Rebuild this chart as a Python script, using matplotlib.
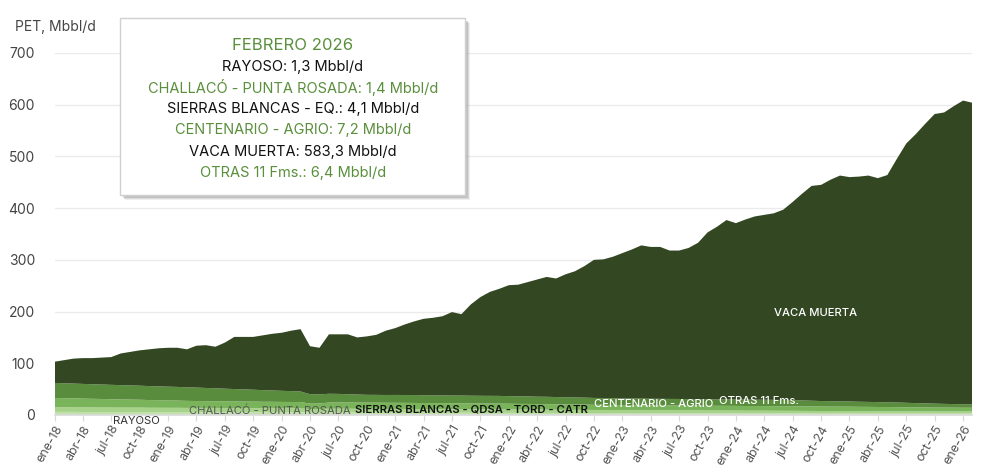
import matplotlib
matplotlib.use("Agg")
import matplotlib.pyplot as plt
from matplotlib.patches import Rectangle
import numpy as np

plt.rcParams['font.family'] = ['Inter', 'DejaVu Sans']

# ---------------- data (Mbbl/d, monthly ene-18 .. feb-26) ----------------
rayoso = [2.0,2.0,2.0,1.9,1.9,1.9,1.9,1.9,1.9,1.9,1.8,1.8,
          1.8,1.8,1.8,1.8,1.8,1.8,1.8,1.7,1.7,1.7,1.7,1.7,
          1.7,1.7,1.7,1.5,1.5,1.6,1.6,1.6,1.6,1.6,1.6,1.6,
          1.6,1.6,1.5,1.5,1.5,1.5,1.5,1.5,1.5,1.5,1.5,1.5,
          1.5,1.5,1.5,1.5,1.5,1.4,1.4,1.4,1.4,1.4,1.4,1.4,
          1.4,1.4,1.4,1.4,1.4,1.4,1.4,1.4,1.4,1.4,1.4,1.4,
          1.4,1.4,1.4,1.4,1.4,1.4,1.4,1.3,1.3,1.3,1.3,1.3,
          1.3,1.3,1.3,1.3,1.3,1.3,1.3,1.3,1.3,1.3,1.3,1.3,1.3,1.3]
challaco = [4.0,4.0,4.0,3.9,3.9,3.9,3.8,3.8,3.8,3.8,3.7,3.7,
            3.7,3.7,3.6,3.6,3.6,3.6,3.5,3.5,3.5,3.5,3.4,3.4,
            3.4,3.4,3.4,3.0,3.0,3.2,3.2,3.2,3.1,3.1,3.1,3.0,
            3.0,3.0,3.0,2.9,2.9,2.9,2.8,2.8,2.8,2.7,2.7,2.7,
            2.6,2.6,2.6,2.5,2.5,2.5,2.4,2.4,2.4,2.3,2.3,2.3,
            2.2,2.2,2.2,2.1,2.1,2.1,2.0,2.0,2.0,1.9,1.9,1.9,
            1.8,1.8,1.8,1.8,1.7,1.7,1.7,1.7,1.6,1.6,1.6,1.6,
            1.6,1.5,1.5,1.5,1.5,1.5,1.5,1.5,1.4,1.4,1.4,1.4,1.4,1.4]
sierras_blancas = [9.0,9.0,8.9,8.9,8.8,8.8,8.7,8.7,8.6,8.6,8.5,8.5,
                   8.4,8.4,8.3,8.3,8.2,8.2,8.1,8.1,8.0,8.0,7.9,7.9,
                   7.8,7.8,7.7,6.8,6.9,7.4,7.4,7.3,7.3,7.2,7.2,7.1,
                   7.1,7.0,7.0,6.9,6.9,6.8,6.8,6.7,6.7,6.6,6.6,6.5,
                   6.5,6.4,6.4,6.3,6.3,6.2,6.2,6.1,6.1,6.0,6.0,5.9,
                   5.9,5.8,5.8,5.7,5.7,5.6,5.6,5.5,5.5,5.4,5.4,5.3,
                   5.3,5.2,5.2,5.1,5.1,5.0,5.0,4.9,4.9,4.8,4.8,4.7,
                   4.7,4.6,4.6,4.5,4.5,4.4,4.4,4.3,4.3,4.2,4.2,4.2,4.1,4.1]
centenario = [18.0,17.6,17.3,17.0,16.7,16.4,16.1,15.8,15.5,15.2,14.9,14.6,
              14.3,14.0,13.6,13.3,13.2,13.1,13.0,12.9,12.8,12.7,12.6,12.5,
              12.4,12.3,12.2,10.8,10.9,11.9,12.1,12.1,12.1,12.1,12.0,12.0,
              11.9,11.9,11.8,11.8,11.7,11.7,11.6,11.6,11.5,11.4,11.4,11.3,
              11.2,11.0,10.9,10.8,10.7,10.6,10.4,10.3,10.2,10.0,9.9,9.7,
              9.5,9.5,9.4,9.4,9.3,9.3,9.3,9.2,9.2,9.2,9.1,9.1,
              9.1,9.0,9.0,9.0,8.9,8.9,8.9,8.8,8.8,8.7,8.6,8.6,
              8.5,8.4,8.3,8.2,8.1,8.0,7.8,7.7,7.6,7.5,7.4,7.3,7.3,7.2]
otras = [29.0,28.8,28.6,28.4,28.2,28.0,27.8,27.6,27.4,27.2,27.0,26.8,
         26.6,26.4,26.2,26.0,25.5,25.0,24.5,24.0,23.5,23.0,22.5,22.0,
         21.5,21.0,20.5,18.0,17.5,17.0,16.5,16.0,15.5,15.0,15.0,15.0,
         15.2,15.1,15.3,15.2,15.0,15.1,14.9,15.0,14.8,14.9,14.8,14.9,
         14.7,14.6,14.5,14.3,14.2,14.0,13.9,13.7,13.5,13.3,13.2,13.1,
         13.0,12.9,12.9,12.8,12.8,12.7,12.7,12.6,12.6,12.5,12.4,12.4,
         12.3,12.3,12.2,12.2,12.1,12.1,12.0,11.5,11.0,10.6,10.4,10.2,
         10.0,9.8,9.6,9.4,9.2,9.0,8.6,8.2,7.9,7.6,7.2,6.9,6.6,6.4]
vaca_muerta = [41.0,44.6,48.2,49.9,50.5,52.0,53.7,61.2,64.8,68.3,71.1,73.6,
               75.2,75.7,73.5,81.0,82.7,80.3,89.1,100.8,101.5,102.1,105.9,109.5,
               112.2,116.8,120.5,92.9,90.2,114.9,115.2,115.8,110.4,113.0,116.1,124.3,
               129.2,136.4,142.4,147.7,150.0,153.0,161.4,157.4,176.7,190.9,201.0,207.1,
               214.5,215.9,221.1,226.6,231.8,229.3,237.7,244.1,254.4,267.0,268.2,273.6,
               281.0,288.2,296.3,293.6,293.7,286.9,287.0,292.3,302.3,322.6,333.8,346.9,
               341.1,348.3,354.4,357.5,360.8,367.9,383.0,399.8,415.4,418.0,428.3,436.6,
               433.9,435.4,437.7,433.1,439.4,470.8,501.4,520.0,540.5,560.0,563.5,575.9,587.3,583.3]

month_abbr = ['ene', 'abr', 'jul', 'oct']
years = list(range(18, 27))
tick_labels = [f"{m}-{y}" for y in years for m in month_abbr][:33]

box_title = "FEBRERO 2026"
box_lines = ["RAYOSO: 1,3 Mbbl/d",
             "CHALLACÓ - PUNTA ROSADA: 1,4 Mbbl/d",
             "SIERRAS BLANCAS - EQ.: 4,1 Mbbl/d",
             "CENTENARIO - AGRIO: 7,2 Mbbl/d",
             "VACA MUERTA: 583,3 Mbbl/d",
             "OTRAS 11 Fms.: 6,4 Mbbl/d"]

# ---------------- figure ----------------
W, H = 989, 472
fig = plt.figure(figsize=(W / 100, H / 100), dpi=100)
fig.patch.set_facecolor('white')
ax = fig.add_axes([54.5 / W, 1 - 415 / H, (972.5 - 54.5) / W, (415 - 53) / H])

x = np.arange(len(vaca_muerta))
colors = ['#d3eac4', '#c0e0aa', '#a6d28a', '#7ab45a', '#5a8c3d', '#334822']
ax.stackplot(x, rayoso, challaco, sierras_blancas, centenario, otras, vaca_muerta,
             colors=colors, linewidth=0, zorder=2)

ax.set_xlim(0, len(x) - 1)
ax.set_ylim(0, 700)
ax.set_yticks(range(0, 701, 100))
ax.yaxis.grid(True, color='#ebebeb', linewidth=1.0, zorder=0)
ax.set_axisbelow(True)
for s in ['top', 'right', 'left']:
    ax.spines[s].set_visible(False)
ax.spines['bottom'].set_color('#d9d9d9')
ax.spines['bottom'].set_linewidth(1.2)
ax.spines['bottom'].set_zorder(3)

ax.tick_params(axis='y', length=0, labelsize=10, labelcolor='#444444', pad=14)
ticks = np.arange(0, len(x), 3)
ax.set_xticks(ticks)
ax.set_xticklabels(tick_labels, rotation=60, ha='right', rotation_mode='anchor',
                   fontsize=9, color='#555555')
ax.tick_params(axis='x', length=4, color='#d9d9d9', pad=2)

fig.text(15 / W, 1 - 27 / H, "PET, Mbbl/d", fontsize=10, color='#444444',
         ha='left', va='center')

# in-chart labels
lab_fs = 8.1
ax.text(80.4, 198, "VACA MUERTA", color='white', fontsize=lab_fs, fontweight='medium',
        ha='center', va='center', zorder=5)
ax.text(8.6, -11.5, "RAYOSO", color='#333333', fontsize=lab_fs, ha='center', va='center',
        zorder=5, clip_on=False)
ax.text(22.8, 7.5, "CHALLACÓ - PUNTA ROSADA", color='#555555', fontsize=lab_fs,
        ha='center', va='center', zorder=5)
ax.text(44.1, 11.5, "SIERRAS BLANCAS - QDSA - TORD - CATR", color='#111111',
        fontsize=lab_fs, fontweight='semibold', ha='center', va='center', zorder=5)
ax.text(63.3, 21.5, "CENTENARIO - AGRIO", color='white', fontsize=lab_fs,
        fontweight='medium', ha='center', va='center', zorder=5)
ax.text(74.4, 27.5, "OTRAS 11 Fms.", color='white', fontsize=lab_fs,
        fontweight='medium', ha='center', va='center', zorder=5)

# info box with shadow
bx0, by0, bx1, by1 = 120, 18, 465, 195
for k, a in ((5, 0.15), (4, 0.25), (3, 0.35)):
    shadow = Rectangle(((bx0 + k) / W, 1 - (by1 + k) / H), (bx1 - bx0) / W,
                       (by1 - by0) / H, transform=fig.transFigure,
                       facecolor='#9a9a9a', edgecolor='none', alpha=a, zorder=8)
    fig.patches.append(shadow)
box = Rectangle((bx0 / W, 1 - by1 / H), (bx1 - bx0) / W, (by1 - by0) / H,
                transform=fig.transFigure, facecolor='white', edgecolor='#d0d0d0',
                linewidth=1, zorder=9)
fig.patches.append(box)

green = '#5a8f3c'
cx = 293 / W
fig.text(cx, 1 - 45 / H, box_title, color=green, fontsize=12, ha='center', va='center',
         zorder=10)
ys = [67, 88, 109, 130, 152, 173]
for i, (line, yy) in enumerate(zip(box_lines, ys)):
    fig.text(cx, 1 - yy / H, line, color=('#111111' if i % 2 == 0 else green),
             fontsize=10.5, ha='center', va='center', zorder=10)

fig.savefig('out.png', dpi=100, facecolor='white')
